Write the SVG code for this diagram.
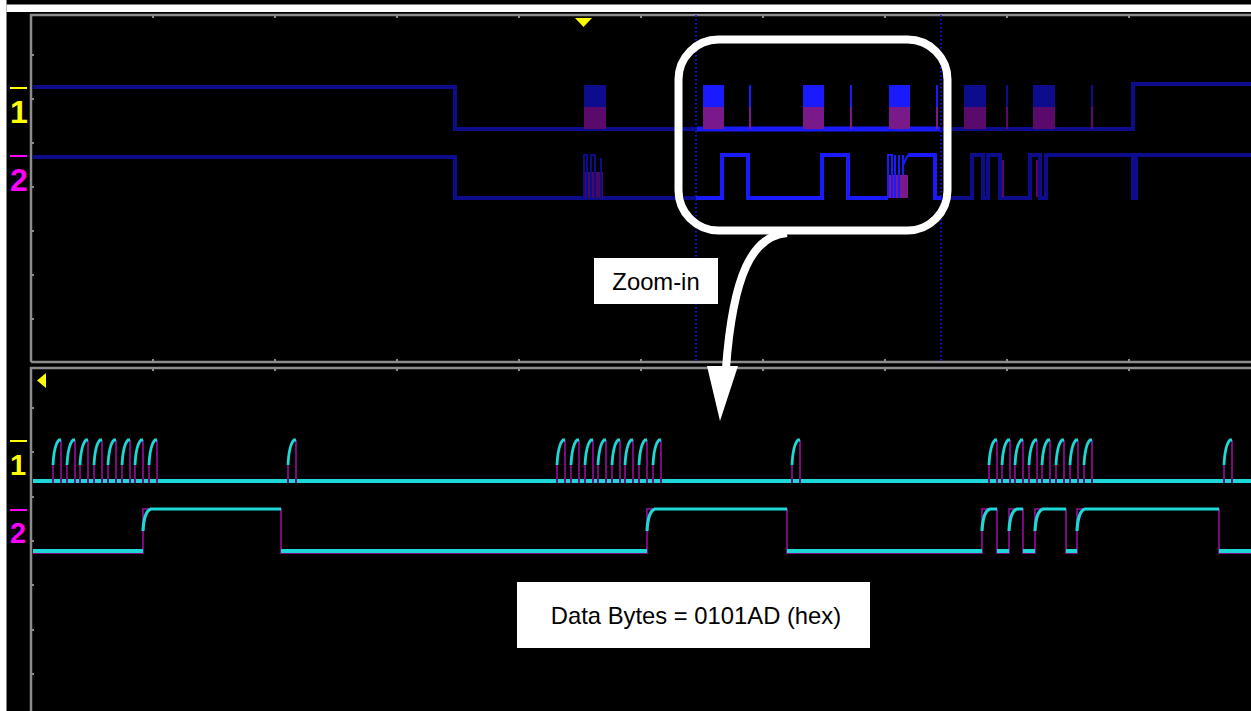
<svg xmlns="http://www.w3.org/2000/svg" xmlns:xlink="http://www.w3.org/1999/xlink" width="1251" height="711" viewBox="0 0 1251 711">
<style>
.frame{stroke:#8c8c8c;stroke-width:2.5;fill:none}
.tick{stroke:#8c8c8c;stroke-width:2}
.cur{stroke:#1a1aff;stroke-width:1.6;stroke-dasharray:1.6 2.4}
.dk{stroke:#0c0c8c;fill:none}
.br{stroke:#1a1aff;fill:none}
.pu{stroke:#7a0a80;fill:none}
.cy{stroke:#1ed8d8;fill:none}
.lbl{font-family:"Liberation Sans",Arial,sans-serif;font-weight:bold}
.box{fill:#ffffff}
.txt{font-family:"Liberation Sans",Arial,sans-serif;font-size:23.8px;fill:#000000;text-anchor:middle}
</style>
<defs>
<g id="p1">
<path class="pu" stroke-width="2" d="M0 2 V-20 M8 -41 V2"/>
<path class="cy" stroke-width="2.8" d="M0 -16 Q1 -36 6 -41 L8 -41"/>
</g>
<g id="bdk">
<rect x="0" y="0" width="22" height="22" fill="#0c0c8c"/>
<rect x="0" y="22" width="22" height="22" fill="#5a0a6a"/>
</g>
<g id="bbr">
<rect x="0" y="0" width="21" height="22" fill="#1a1aff"/>
<rect x="0" y="22" width="21" height="22" fill="#7a1a8a"/>
</g>
</defs>
<rect x="0" y="0" width="1251" height="711" fill="#000000"/>
<rect x="0" y="0" width="6.5" height="711" fill="#ffffff"/>
<rect x="6.5" y="4.5" width="1244.5" height="7.5" fill="#ffffff"/>

<g id="grid">
<path class="frame" d="M31 711 V368 H1251 M31 362 V15 H1251 M31 362 H1251"/>
<path class="tick" d="M153 15 v3 M275 15 v3 M397 15 v3 M519 15 v3 M641 15 v3 M763 15 v3 M885 15 v3 M1007 15 v3 M1129 15 v3
M153 362 v-3 M275 362 v-3 M397 362 v-3 M519 362 v-3 M641 362 v-3 M763 362 v-3 M885 362 v-3 M1007 362 v-3 M1129 362 v-3
M153 368 v3 M275 368 v3 M397 368 v3 M519 368 v3 M641 368 v3 M763 368 v3 M885 368 v3 M1007 368 v3 M1129 368 v3
M31 55 h3 M31 99 h3 M31 143 h3 M31 187 h3 M31 231 h3 M31 275 h3 M31 319 h3
M31 408 h3 M31 452 h3 M31 497 h3 M31 541 h3 M31 585 h3 M31 630 h3 M31 674 h3"/>
<path class="cur" d="M696 15 V362 M941 15 V362"/>
<polygon points="575,18 592,18 583.5,27" fill="#ffff00"/>
<polygon points="46,373 46,388 37,380.5" fill="#ffff00"/>
</g>

<g id="labels">
<path stroke="#ffff00" stroke-width="2" d="M10 88 H27 M10 441 H27"/>
<path stroke="#ff00ff" stroke-width="2" d="M10 156 H27 M10 510 H27"/>
<text class="lbl" x="10" y="123" font-size="32" fill="#ffff00">1</text>
<text class="lbl" x="10" y="191" font-size="32" fill="#ff00ff">2</text>
<text class="lbl" x="10" y="475" font-size="29" fill="#ffff00">1</text>
<text class="lbl" x="10" y="543" font-size="29" fill="#ff00ff">2</text>
</g>

<g id="upper-ch1">
<path class="dk" stroke-width="4" d="M33 87 H455 V129 H1133 V84 H1251"/>
<path class="br" stroke-width="5" d="M697 129 H940"/>
<use xlink:href="#bdk" x="584" y="85"/>
<use xlink:href="#bbr" x="703" y="85"/>
<use xlink:href="#bbr" x="803" y="85"/>
<use xlink:href="#bbr" x="889" y="85"/>
<use xlink:href="#bdk" x="964" y="85"/>
<use xlink:href="#bdk" x="1033" y="85"/>
<path stroke="#1a1aff" stroke-width="2" d="M750 85 V107 M851 85 V107 M937 85 V107"/>
<path stroke="#7a1a8a" stroke-width="2" d="M750 107 V129 M851 107 V129 M937 107 V129"/>
<path stroke="#0c0c8c" stroke-width="2" d="M1007 85 V107 M1092 85 V107"/>
<path stroke="#5a0a6a" stroke-width="2" d="M1007 107 V129 M1092 107 V129"/>
</g>

<g id="upper-ch2">
<path class="dk" stroke-width="4" d="M33 157 H455 V198 H696"/>
<rect x="583" y="172" width="20" height="26" fill="#4a0a5a"/>
<path class="dk" stroke-width="2" d="M584 198 V155 H587 V198 M591 198 V155 H595 V198 M601 198 V158 V198"/>
<path class="br" stroke-width="4" d="M696 198 H722 V155 H748 V198 H822 V155 H848 V198 H888 M908 155 H935 V198 H941"/>
<rect x="888" y="175" width="20" height="23" fill="#7a1a8a"/>
<path class="br" stroke-width="2" d="M888 198 V155 H892 V198 M895 155 V198 M899 155 V198 M903 155 V175 M903 165 L908 155"/>
<path class="dk" stroke-width="4" d="M941 198 H972 V155 H983 V198 H988 V155 H1000 V198 H1030 V155 H1040 V198 H1046 V155 H1133 V198 H1136 V155 H1251"/>
<path class="pu" stroke-width="1.5" d="M1003 160 V197 M1037 160 V197"/>
</g>

<g id="lower-ch1">
<path class="cy" stroke-width="4" d="M33 481 H1251"/>
<use xlink:href="#p1" x="53" y="481"/>
<use xlink:href="#p1" x="67" y="481"/>
<use xlink:href="#p1" x="80" y="481"/>
<use xlink:href="#p1" x="94" y="481"/>
<use xlink:href="#p1" x="108" y="481"/>
<use xlink:href="#p1" x="122" y="481"/>
<use xlink:href="#p1" x="135" y="481"/>
<use xlink:href="#p1" x="149" y="481"/>
<use xlink:href="#p1" x="288" y="481"/>
<use xlink:href="#p1" x="557" y="481"/>
<use xlink:href="#p1" x="571" y="481"/>
<use xlink:href="#p1" x="585" y="481"/>
<use xlink:href="#p1" x="598" y="481"/>
<use xlink:href="#p1" x="612" y="481"/>
<use xlink:href="#p1" x="625" y="481"/>
<use xlink:href="#p1" x="639" y="481"/>
<use xlink:href="#p1" x="653" y="481"/>
<use xlink:href="#p1" x="792" y="481"/>
<use xlink:href="#p1" x="989" y="481"/>
<use xlink:href="#p1" x="1002" y="481"/>
<use xlink:href="#p1" x="1015" y="481"/>
<use xlink:href="#p1" x="1029" y="481"/>
<use xlink:href="#p1" x="1042" y="481"/>
<use xlink:href="#p1" x="1056" y="481"/>
<use xlink:href="#p1" x="1070" y="481"/>
<use xlink:href="#p1" x="1084" y="481"/>
<use xlink:href="#p1" x="1224" y="481"/>
</g>

<g id="lower-ch2">
<path class="pu" stroke-width="2" d="M33 553 H143 V509 H281 V553 H647 V509 H787 V553 H982 V509 H997 V553 H1009 V509 H1023 V553 H1035 V509 H1066 V553 H1077 V509 H1219 V553 H1251"/>
<path class="cy" stroke-width="4" d="M33 551 H143 M281 551 H647 M787 551 H982 M997 551 H1009 M1023 551 H1035 M1066 551 H1077 M1219 551 H1251"/>
<path class="cy" stroke-width="3.2" d="M143 531 Q144 511 151 509 H281 M647 531 Q648 511 655 509 H787 M982 531 Q983 511 990 509 H997 M1009 531 Q1010 511 1017 509 H1023 M1035 531 Q1036 511 1043 509 H1066 M1077 531 Q1078 511 1085 509 H1219"/>
</g>

<g id="zoom-bubble">
<rect x="678.5" y="39.5" width="269" height="191" rx="40" ry="40" fill="none" stroke="#ffffff" stroke-width="8"/>
</g>

<g id="connectors">
<path d="M787 233 C752 236 733 275 726 368" fill="none" stroke="#ffffff" stroke-width="8"/>
<polygon points="707,366 738,366 720,421" fill="#ffffff"/>
</g>

<g id="zoom-label">
<rect class="box" x="594" y="258" width="124" height="46"/>
<text class="txt" x="656" y="290">Zoom-in</text>
</g>

<g id="data-label">
<rect class="box" x="517" y="582" width="353" height="66"/>
<text class="txt" x="696" y="624">Data Bytes = 0101AD (hex)</text>
</g>
</svg>
